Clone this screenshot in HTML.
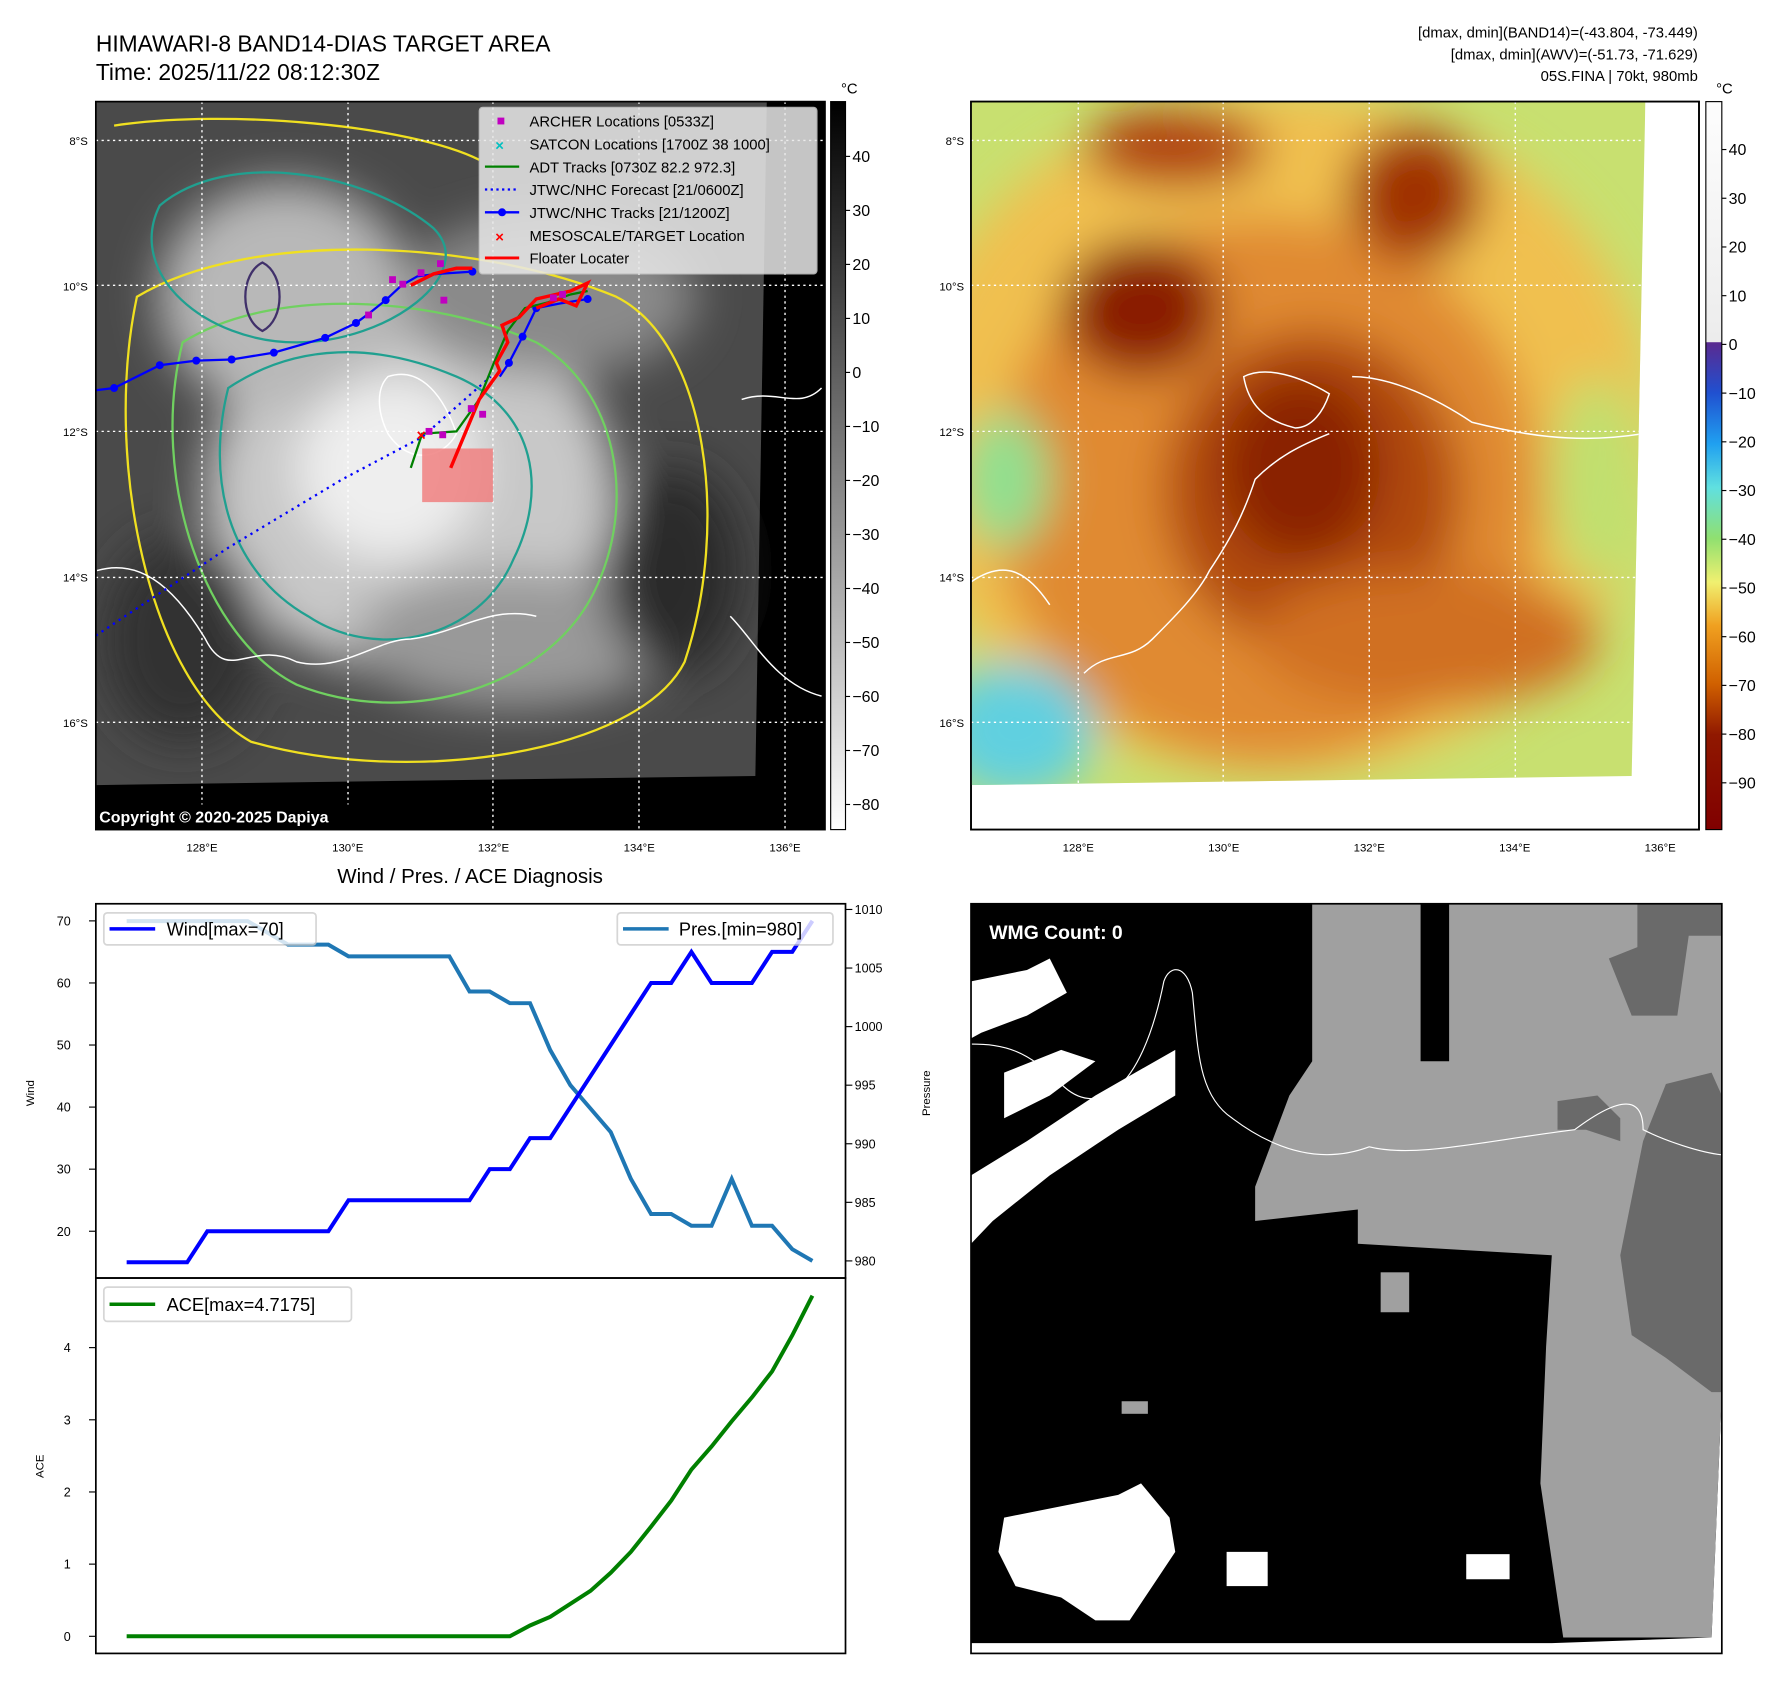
<!DOCTYPE html>
<html><head><meta charset="utf-8"><style>
html,body{margin:0;padding:0;background:#fff;}
svg{display:block;font-family:"Liberation Sans","DejaVu Sans",sans-serif;}
</style></head><body>
<svg id="fig" width="1788" height="1690" viewBox="0 0 1567 1481" xmlns="http://www.w3.org/2000/svg">
<defs>
<linearGradient id="cbgray" x1="0" y1="0" x2="0" y2="1"><stop offset="0" stop-color="#000"/><stop offset="1" stop-color="#fff"/></linearGradient>
<linearGradient id="cbcol" x1="0" y1="0" x2="0" y2="1">
<stop offset="0" stop-color="#fdfdfd"/><stop offset="0.33" stop-color="#ececec"/><stop offset="0.331" stop-color="#5a2a90"/>
<stop offset="0.4" stop-color="#2050d0"/><stop offset="0.47" stop-color="#20a0f0"/><stop offset="0.53" stop-color="#60e0e0"/>
<stop offset="0.6" stop-color="#90e070"/><stop offset="0.66" stop-color="#f0f070"/><stop offset="0.72" stop-color="#f0a020"/>
<stop offset="0.8" stop-color="#d06000"/><stop offset="0.87" stop-color="#901800"/><stop offset="1" stop-color="#800000"/></linearGradient>
<filter id="blur20"><feGaussianBlur stdDeviation="20"/></filter>
<clipPath id="clipL"><rect x="84" y="89" width="639" height="638"/></clipPath>
<clipPath id="clipR"><polygon points="851,89 1442,89 1430,680 851,688"/></clipPath>
</defs>

<text x="84" y="45" font-size="20">HIMAWARI-8 BAND14-DIAS TARGET AREA</text>
<text x="84" y="70" font-size="20">Time: 2025/11/22 08:12:30Z</text>
<g font-size="13" text-anchor="end">
<text x="1488" y="33">[dmax, dmin](BAND14)=(-43.804, -73.449)</text>
<text x="1488" y="52">[dmax, dmin](AWV)=(-51.73, -71.629)</text>
<text x="1488" y="71">05S.FINA | 70kt, 980mb</text></g>

<g>
<rect x="84" y="89" width="639" height="638" fill="#000"/>
<g clip-path="url(#clipL)">
<polygon points="84,89 672,89 662,680 84,688" fill="#4a4a4a"/>
<g filter="url(#blur20)">
<ellipse cx="360" cy="430" rx="180" ry="160" fill="#c8c8c8"/>
<ellipse cx="250" cy="260" rx="110" ry="100" fill="#b8b8b8"/>
<ellipse cx="480" cy="260" rx="130" ry="70" fill="#8a8a8a"/>
<ellipse cx="450" cy="560" rx="140" ry="60" fill="#999"/>
<ellipse cx="590" cy="500" rx="60" ry="90" fill="#2a2a2a"/>
<ellipse cx="160" cy="560" rx="70" ry="90" fill="#333"/>
<ellipse cx="340" cy="410" rx="80" ry="80" fill="#eeeeee"/>
</g>
<g fill="none" stroke-width="2">
<path d="M200,340 C260,300 330,300 400,330 C470,360 480,430 450,490 C420,560 330,580 270,540 C200,500 180,420 200,340Z" stroke="#20a090"/>
<path d="M160,300 C240,250 380,260 470,300 C540,340 560,440 520,520 C480,600 360,640 260,600 C180,560 130,420 160,300Z" stroke="#70d060"/>
<path d="M120,260 C220,200 420,210 540,260 C620,300 640,460 600,580 C560,660 360,690 220,650 C130,600 90,400 120,260Z" stroke="#f0e020"/>
<path d="M140,180 C200,130 320,150 380,200 C420,240 340,300 260,300 C180,300 110,240 140,180Z" stroke="#20a090"/>
<path d="M100,110 C200,95 360,110 420,140" stroke="#f0e020"/>
<path d="M230,230 C250,240 250,280 230,290 C210,280 210,240 230,230Z" stroke="#40306a"/>
</g>
<g fill="none" stroke="#fff" stroke-width="1.3">
<path d="M85,500 C120,490 150,510 180,560 C200,600 220,560 260,580 C300,590 330,560 360,560 C400,555 430,530 470,540"/>
<path d="M340,330 C370,320 390,350 400,380 C390,400 360,410 340,380 C330,360 330,340 340,330Z"/>
<path d="M650,350 C680,340 700,360 720,340"/>
<path d="M640,540 C660,560 680,600 720,610"/>
</g>
</g>
<g stroke="#fff" stroke-width="1.2" stroke-dasharray="2,3" fill="none">
<line x1="84" y1="123" x2="723" y2="123"/><line x1="84" y1="250" x2="723" y2="250"/><line x1="84" y1="378" x2="723" y2="378"/><line x1="84" y1="506" x2="723" y2="506"/><line x1="84" y1="633" x2="723" y2="633"/>
<line x1="177" y1="89" x2="177" y2="727"/><line x1="305" y1="89" x2="305" y2="727"/><line x1="432" y1="89" x2="432" y2="727"/><line x1="560" y1="89" x2="560" y2="727"/><line x1="688" y1="89" x2="688" y2="727"/></g>
<rect x="370" y="393" width="62" height="47" fill="#f08080" opacity="0.85"/>
<polyline points="84,557 200,480 300,420 370,383 430,330" fill="none" stroke="#0000ff" stroke-width="2" stroke-dasharray="2,4"/>
<polyline points="84,342 100,340 140,320 172,316 203,315 240,309 285,296 312,283 323,275 338,263 352,250 366,242 384,240 414,238" fill="none" stroke="#0000ff" stroke-width="2"/>
<g fill="#0000ff"><circle cx="100" cy="340" r="3.5"/><circle cx="140" cy="320" r="3.5"/><circle cx="172" cy="316" r="3.5"/><circle cx="203" cy="315" r="3.5"/><circle cx="240" cy="309" r="3.5"/><circle cx="285" cy="296" r="3.5"/><circle cx="312" cy="283" r="3.5"/><circle cx="338" cy="263" r="3.5"/><circle cx="414" cy="238" r="3.5"/><circle cx="470" cy="270" r="3.5"/><circle cx="515" cy="262" r="3.5"/><circle cx="458" cy="295" r="3.5"/><circle cx="446" cy="318" r="3.5"/></g>
<polyline points="438,330 446,318 458,295 470,270 490,266 515,262" fill="none" stroke="#0000ff" stroke-width="2"/>
<polyline points="360,410 370,380 400,378 420,350 432,320 445,290 460,270 480,265 500,258 515,255" fill="none" stroke="#008000" stroke-width="2"/>
<polyline points="395,410 420,350 438,325 435,318 445,300 440,285 455,278 470,262 500,255 515,248 505,268 490,262 470,270" fill="none" stroke="#ff0000" stroke-width="3"/>
<polyline points="360,250 380,240 400,235 414,235" fill="none" stroke="#ff0000" stroke-width="3"/>
<g fill="#c000c0"><rect x="341" y="242" width="6" height="6"/><rect x="350" y="246" width="6" height="6"/><rect x="366" y="236" width="6" height="6"/><rect x="383" y="228" width="6" height="6"/><rect x="386" y="260" width="6" height="6"/><rect x="320" y="273" width="6" height="6"/><rect x="410" y="355" width="6" height="6"/><rect x="420" y="360" width="6" height="6"/><rect x="373" y="375" width="6" height="6"/><rect x="385" y="378" width="6" height="6"/><rect x="482" y="258" width="6" height="6"/><rect x="490" y="255" width="6" height="6"/></g>
<text x="365" y="386" font-size="14" font-weight="bold" fill="#ff0000">×</text>
</g>
<rect x="84" y="89" width="639" height="638" fill="none" stroke="#000" stroke-width="1.5"/>
<rect x="84" y="705" width="270" height="22" fill="#000"/>
<text x="87" y="721" font-size="14" font-weight="bold" fill="#fff">Copyright © 2020-2025 Dapiya</text>

<g>
<rect x="420" y="94" width="296" height="146" rx="3" fill="#e8e8e8" opacity="0.85" stroke="#ccc"/>
<g font-size="13" fill="#000">
<rect x="436" y="103" width="6" height="6" fill="#c000c0"/><text x="464" y="111">ARCHER Locations [0533Z]</text>
<text x="434" y="132" fill="#00c0c0" font-size="13" font-weight="bold">×</text><text x="464" y="131">SATCON Locations [1700Z 38 1000]</text>
<line x1="425" y1="146" x2="455" y2="146" stroke="#008000" stroke-width="2"/><text x="464" y="151">ADT Tracks [0730Z 82.2 972.3]</text>
<line x1="425" y1="166" x2="455" y2="166" stroke="#0000ff" stroke-width="2" stroke-dasharray="2,3"/><text x="464" y="171">JTWC/NHC Forecast [21/0600Z]</text>
<line x1="425" y1="186" x2="455" y2="186" stroke="#0000ff" stroke-width="2"/><circle cx="440" cy="186" r="3.5" fill="#0000ff"/><text x="464" y="191">JTWC/NHC Tracks [21/1200Z]</text>
<text x="434" y="212" fill="#ff0000" font-weight="bold">×</text><text x="464" y="211">MESOSCALE/TARGET Location</text>
<line x1="425" y1="226" x2="455" y2="226" stroke="#ff0000" stroke-width="2.5"/><text x="464" y="231">Floater Locater</text>
</g></g>

<g>
<rect x="728" y="89" width="13" height="638" fill="url(#cbgray)" stroke="#000"/>
<text x="737" y="82" font-size="13">°C</text>
<g font-size="14" id="cbL"></g></g>

<g>
<rect x="851" y="89" width="638" height="638" fill="#fff" stroke="#000" stroke-width="1.5"/>
<g clip-path="url(#clipR)">
<rect x="851" y="89" width="600" height="600" fill="#c8e070"/>
<g filter="url(#blur20)">
<ellipse cx="1120" cy="380" rx="330" ry="300" fill="#f0c050"/>
<ellipse cx="1110" cy="430" rx="240" ry="240" fill="#e08a30"/>
<ellipse cx="1150" cy="430" rx="130" ry="140" fill="#b04a10"/>
<ellipse cx="1140" cy="410" rx="70" ry="80" fill="#8a2200"/>
<ellipse cx="1000" cy="270" rx="70" ry="60" fill="#8a1a00"/>
<ellipse cx="1240" cy="170" rx="60" ry="60" fill="#a03000"/>
<ellipse cx="1030" cy="130" rx="80" ry="35" fill="#b04010"/>
<ellipse cx="1250" cy="560" rx="150" ry="60" fill="#d07020"/>
<ellipse cx="890" cy="640" rx="70" ry="60" fill="#60d0e0"/>
<ellipse cx="880" cy="420" rx="40" ry="60" fill="#90e090"/>
<ellipse cx="1400" cy="420" rx="40" ry="90" fill="#c0e070"/>
</g>
<g fill="none" stroke="#fff" stroke-width="1.3">
<path d="M1090,330 C1110,320 1140,330 1165,345 C1160,360 1150,375 1135,375 C1115,370 1095,360 1090,330Z"/>
<path d="M1165,380 C1140,390 1120,400 1100,420 C1090,450 1080,470 1060,500 C1050,520 1030,540 1010,560 C990,580 970,570 950,590"/>
<path d="M1185,330 C1220,330 1260,350 1290,370 C1330,380 1380,390 1440,380"/>
<path d="M851,510 C880,490 900,500 920,530"/>
</g></g>
<g stroke="#fff" stroke-width="1.2" stroke-dasharray="2,3" fill="none">
<line x1="851" y1="123" x2="1440" y2="123"/><line x1="851" y1="250" x2="1440" y2="250"/><line x1="851" y1="378" x2="1440" y2="378"/><line x1="851" y1="506" x2="1440" y2="506"/><line x1="851" y1="633" x2="1440" y2="633"/>
<line x1="945" y1="89" x2="945" y2="688"/><line x1="1072" y1="89" x2="1072" y2="688"/><line x1="1200" y1="89" x2="1200" y2="688"/><line x1="1328" y1="89" x2="1328" y2="688"/></g>
<rect x="851" y="89" width="638" height="638" fill="none" stroke="#000" stroke-width="1.5"/>
</g>
<g>
<rect x="1495" y="89" width="14" height="638" fill="url(#cbcol)" stroke="#000"/>
<text x="1504" y="82" font-size="13">°C</text>
<g font-size="14" id="cbR"></g></g>

<g id="mapTicks" font-size="10"></g>

<text x="412" y="774" font-size="18" text-anchor="middle">Wind / Pres. / ACE Diagnosis</text>

<g id="diag">
<rect x="84" y="792" width="657" height="328" fill="none" stroke="#000" stroke-width="1.5"/>
<rect x="84" y="1120" width="657" height="329" fill="none" stroke="#000" stroke-width="1.5"/>
<text transform="translate(30,958) rotate(-90)" font-size="10" text-anchor="middle">Wind</text>
<text transform="translate(815,958) rotate(-90)" font-size="10" text-anchor="middle">Pressure</text>
<text transform="translate(38,1285) rotate(-90)" font-size="10" text-anchor="middle">ACE</text>
<g id="diagTicks" font-size="11"></g>
<g id="diagLines"></g>
<g><rect x="91" y="800" width="186" height="28" rx="3" fill="#fff" opacity="0.8" stroke="#ccc" stroke-width="1.5"/><line x1="96" y1="814" x2="136" y2="814" stroke="#0000ff" stroke-width="3"/><text x="146" y="820" font-size="16">Wind[max=70]</text></g>
<g><rect x="541" y="800" width="189" height="28" rx="3" fill="#fff" opacity="0.8" stroke="#ccc" stroke-width="1.5"/><line x1="546" y1="814" x2="586" y2="814" stroke="#1f77b4" stroke-width="3"/><text x="595" y="820" font-size="16">Pres.[min=980]</text></g>
<g><rect x="91" y="1128" width="217" height="30" rx="3" fill="#fff" opacity="0.8" stroke="#ccc" stroke-width="1.5"/><line x1="96" y1="1143" x2="136" y2="1143" stroke="#008000" stroke-width="3"/><text x="146" y="1149" font-size="16">ACE[max=4.7175]</text></g>
</g>

<g>
<rect x="851" y="792" width="658" height="657" fill="#fff"/>
<polygon points="851,792 1509,792 1509,1220 1500,1435 1360,1440 851,1440" fill="#000"/>
<polygon points="1150,792 1245,792 1245,930 1270,930 1270,792 1509,792 1509,1220 1500,1435 1370,1435 1350,1300 1355,1180 1360,1100 1190,1090 1190,1060 1100,1070 1100,1040 1130,960 1150,930" fill="#a0a0a0"/>
<polygon points="1420,1100 1440,1000 1460,950 1500,940 1509,960 1509,1220 1500,1220 1460,1190 1430,1170" fill="#6a6a6a"/>
<polygon points="1435,792 1509,792 1509,820 1480,820 1470,890 1430,890 1410,840 1435,830" fill="#6a6a6a"/>
<polygon points="1365,965 1400,960 1420,980 1420,1000 1390,990 1365,990" fill="#6a6a6a"/>
<polygon points="851,860 900,850 920,840 935,870 900,890 860,905 851,910" fill="#fff"/>
<polygon points="851,1030 900,1000 960,960 1030,920 1030,960 980,990 920,1030 870,1070 851,1090" fill="#fff"/>
<polygon points="880,940 930,920 960,930 920,960 880,980" fill="#fff"/>
<polygon points="880,1330 930,1320 980,1310 1000,1300 1025,1330 1030,1360 1010,1390 990,1420 960,1420 930,1400 890,1390 875,1360" fill="#fff"/>
<rect x="1285" y="1362" width="38" height="22" fill="#fff"/>
<rect x="1075" y="1360" width="36" height="30" fill="#fff"/>
<rect x="1210" y="1115" width="25" height="35" fill="#a0a0a0"/>
<rect x="983" y="1228" width="23" height="11" fill="#a0a0a0"/>
<path d="M851,915 C880,915 900,920 930,950 C960,980 1000,960 1020,860 C1025,845 1040,845 1045,870 C1050,920 1050,960 1080,980 C1120,1010 1160,1020 1200,1005 C1240,1015 1300,1000 1380,990 C1420,960 1440,960 1440,990 C1460,1000 1490,1010 1509,1012" fill="none" stroke="#fff" stroke-width="1"/>
<rect x="851" y="792" width="658" height="657" fill="none" stroke="#000" stroke-width="1.5"/>
<rect x="861" y="803" width="165" height="28" rx="3" fill="#000"/>
<text x="867" y="823" font-size="17" font-weight="bold" fill="#fff">WMG Count: 0</text>
</g>
</svg>
<script>
const windValues=[15,15,15,15,20,20,20,20,20,20,20,25,25,25,25,25,25,25,30,30,35,35,40,45,50,55,60,60,65,60,60,60,65,65,70];
const presValues=[1009,1009,1009,1009,1009,1009,1009,1008,1007,1007,1007,1006,1006,1006,1006,1006,1006,1003,1003,1002,1002,998,995,993,991,987,984,984,983,983,987,983,983,981,980];
const aceValues=[0,0,0,0,0,0,0,0,0,0,0,0,0,0,0,0,0,0,0,0,0.15,0.27,0.45,0.63,0.88,1.17,1.52,1.88,2.31,2.63,2.98,3.31,3.67,4.17,4.72];
const windTicks=[20,30,40,50,60,70];
const presTicks=[980,985,990,995,1000,1005,1010];
const aceTicks=[0,1,2,3,4];
const irCbTicks=[40,30,20,10,0,-10,-20,-30,-40,-50,-60,-70,-80];
const wvCbTicks=[40,30,20,10,0,-10,-20,-30,-40,-50,-60,-70,-80,-90];
const latLabels=["8°S","10°S","12°S","14°S","16°S"];
const lonLabels=["128°E","130°E","132°E","134°E","136°E"];

const NS="http://www.w3.org/2000/svg";
function mk(tag,attrs,parent,txt){const e=document.createElementNS(NS,tag);for(const k in attrs)e.setAttribute(k,attrs[k]);if(txt!==undefined)e.textContent=txt;parent.appendChild(e);return e;}
const n=windValues.length;
const xS=i=>111+i*(712-111)/(n-1);
const yW=v=>807+(70-v)*(1079-807)/50;
const yP=p=>797+(1010-p)*(1105-797)/30;
const yA=a=>1434-a*(1434-1181)/4;

const dt=document.getElementById('diagTicks');
windTicks.forEach(v=>{mk('line',{x1:78,x2:84,y1:yW(v),y2:yW(v),stroke:'#000'},dt);const t=mk('text',{x:62,y:yW(v)+4,'text-anchor':'end'},dt,v);

});
presTicks.forEach(v=>{mk('line',{x1:741,x2:747,y1:yP(v),y2:yP(v),stroke:'#000'},dt);const t=mk('text',{x:749,y:yP(v)+4},dt,v);

});
aceTicks.forEach(v=>{mk('line',{x1:78,x2:84,y1:yA(v),y2:yA(v),stroke:'#000'},dt);const t=mk('text',{x:62,y:yA(v)+4,'text-anchor':'end'},dt,v);

});

const dl=document.getElementById('diagLines');
const pl1=mk('polyline',{points:presValues.map((p,i)=>xS(i)+','+yP(p)).join(' '),fill:'none',stroke:'#1f77b4','stroke-width':3.5},dl);


const pl2=mk('polyline',{points:windValues.map((v,i)=>xS(i)+','+yW(v)).join(' '),fill:'none',stroke:'#0000ff','stroke-width':3.5},dl);


const pl3=mk('polyline',{points:aceValues.map((v,i)=>xS(i)+','+yA(v)).join(' '),fill:'none',stroke:'#008000','stroke-width':3.5},dl);



const cbL=document.getElementById('cbL');
irCbTicks.forEach(v=>{const y=137+(40-v)*(705-137)/120;mk('line',{x1:741,x2:745,y1:y,y2:y,stroke:'#000'},cbL);const t=mk('text',{x:747,y:y+5},cbL,v<0?'\u2212'+(-v):v);

});
const cbR=document.getElementById('cbR');
wvCbTicks.forEach(v=>{const y=131+(40-v)*(686-131)/130;mk('line',{x1:1509,x2:1513,y1:y,y2:y,stroke:'#000'},cbR);const t=mk('text',{x:1515,y:y+5},cbR,v<0?'\u2212'+(-v):v);

});

const mt=document.getElementById('mapTicks');
latLabels.forEach((s,i)=>{const y=123+i*127.5+4;
const a=mk('text',{x:77,y:y,'text-anchor':'end'},mt,s);


const b=mk('text',{x:845,y:y,'text-anchor':'end'},mt,s);

});
lonLabels.forEach((s,i)=>{
const a=mk('text',{x:177+i*127.75,y:746,'text-anchor':'middle'},mt,s);


const b=mk('text',{x:945+i*127.5,y:746,'text-anchor':'middle'},mt,s);

});
</script>
</body></html>
